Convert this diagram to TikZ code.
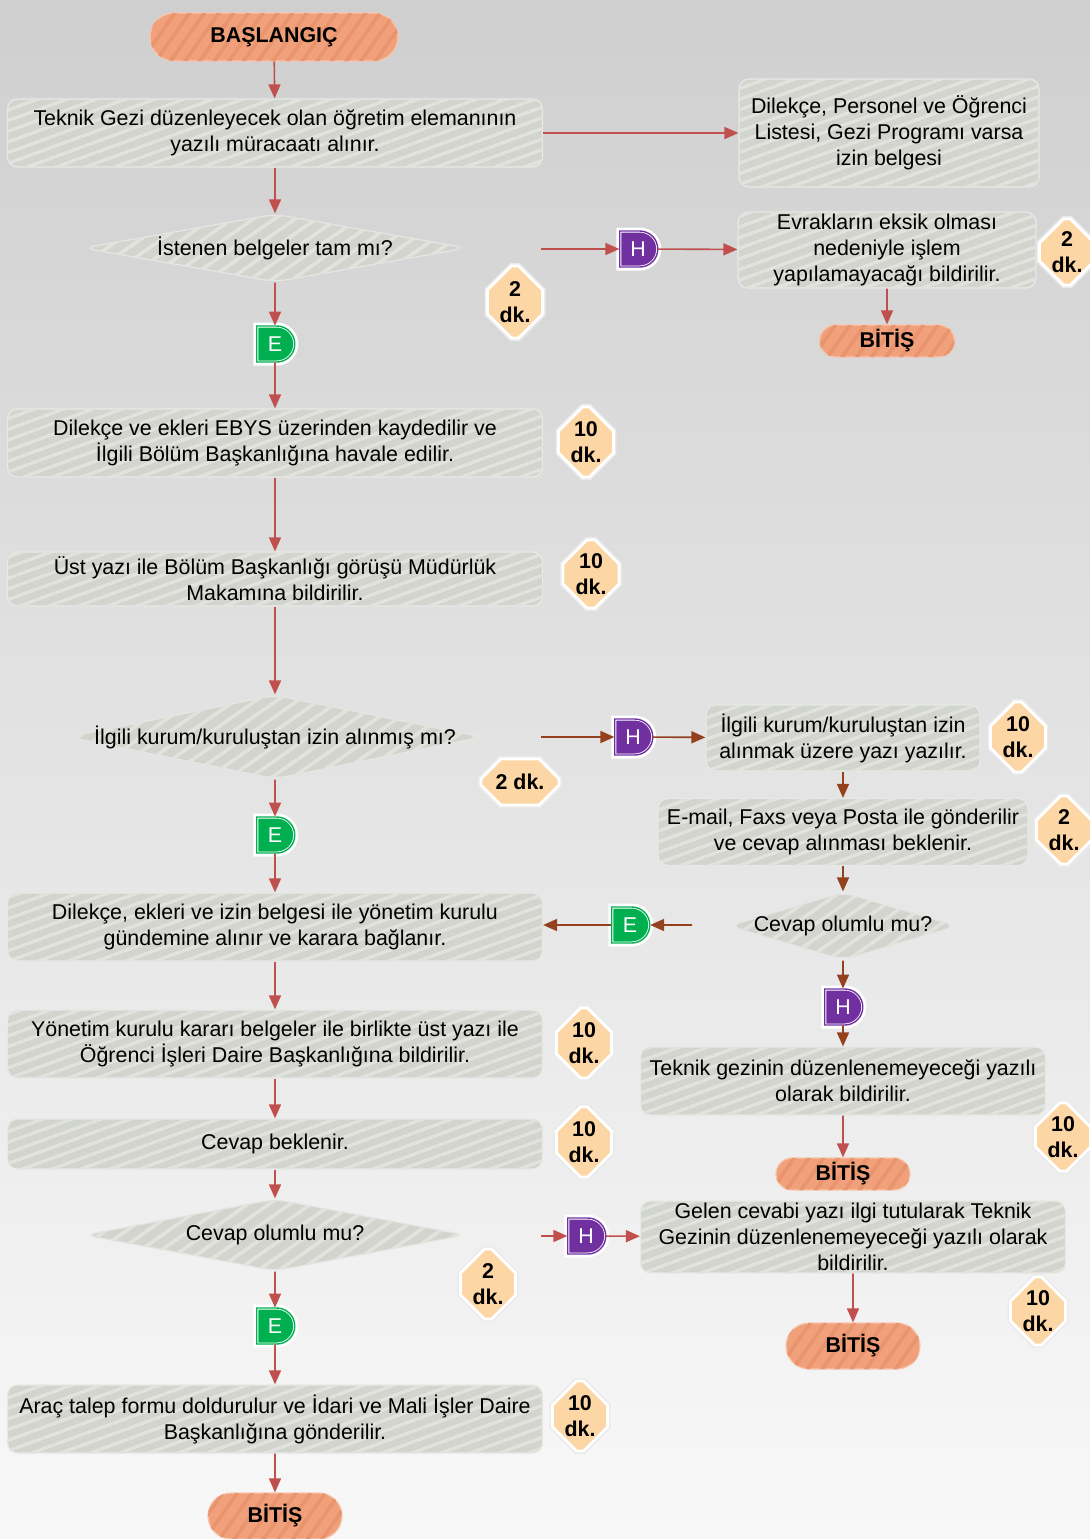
\documentclass[tikz,border=0pt]{standalone}
\usepackage{fontspec}
\setmainfont{Liberation Sans}
\usetikzlibrary{shapes.geometric, shapes.misc, arrows.meta, patterns.meta}

\definecolor{bgtop}{RGB}{207,207,207}
\definecolor{bgbot}{RGB}{248,248,248}
\definecolor{procgray}{RGB}{210,212,206}
\definecolor{termorange}{RGB}{240,160,122}
\definecolor{termstripe}{RGB}{233,148,108}
\definecolor{durpeach}{RGB}{253,214,166}
\definecolor{hpurple}{RGB}{112,48,160}
\definecolor{egreen}{RGB}{0,176,80}
\definecolor{arrred}{RGB}{192,80,77}
\definecolor{arrbrown}{RGB}{148,66,30}

\begin{document}
\begin{tikzpicture}[
  x=0.5pt, y=-0.5pt,
  font=\fontsize{10.7}{13}\selectfont,
  proc/.style={rectangle, rounded corners=5pt, fill=procgray, draw=white!50!procgray,
    line width=0.6pt, align=center, inner sep=1pt,
    postaction={pattern={Lines[angle=20, distance=5pt, line width=1.6pt]}, pattern color=white!35!procgray}},
  term/.style={rounded rectangle, fill=termorange, draw=termorange!60!white, line width=0.6pt,
    font=\fontsize{10.7}{13}\selectfont\bfseries, inner sep=0pt,
    postaction={pattern={Lines[angle=55, distance=6pt, line width=1.8pt]}, pattern color=termstripe}},
  dec/.style={diamond, rounded corners=6pt, fill=procgray, draw=white!45!procgray, line width=0.6pt,
    inner sep=0pt,
    postaction={pattern={Lines[angle=35, distance=6pt, line width=1.8pt]}, pattern color=white!35!procgray}},
  dur/.style={chamfered rectangle, chamfered rectangle xsep=6pt, chamfered rectangle ysep=6pt,
    fill=durpeach, draw=white, line width=1.4pt, inner sep=0pt, align=center,
    font=\fontsize{10.7}{13}\selectfont\bfseries, preaction={draw=black!8, line width=3pt}},
  conn/.style={rounded rectangle, rounded rectangle west arc=none, minimum height=18pt,
    minimum width=19pt, inner sep=0pt, text=white, fill=#1, draw=white, double=#1,
    double distance=0.7pt, line width=0.4pt, preaction={draw=white, line width=3.5pt}},
  flow/.style={draw=arrred, line width=0.8pt, -{Triangle[length=7pt, width=6pt]}},
  flowb/.style={flow, draw=arrbrown},
]
  \useasboundingbox (0,0) rectangle (1090,1539);
  \shade[top color=bgtop, bottom color=bgbot] (0,0) rectangle (1090,1539);

  % left column
  \node[term, minimum width=124pt, minimum height=24pt] (start) at (274,37) {BAŞLANGIÇ};
  \node[proc, minimum width=267.5pt, minimum height=34pt] (p1) at (275,133)
    {Teknik Gezi düzenleyecek olan öğretim elemanının\\yazılı müracaatı alınır.};
  \node[dec, minimum width=192pt, minimum height=34pt,
    label=center:{İstenen belgeler tam mı?}] (d1) at (275,248) {};
  \node[dur, minimum width=27.5pt, minimum height=36pt] (t1) at (515,302) {2\\dk.};
  \node[conn=egreen] (e1) at (275,344) {E};
  \node[proc, minimum width=267.5pt, minimum height=34pt] (p2) at (275,443)
    {Dilekçe ve ekleri EBYS üzerinden kaydedilir ve\\İlgili Bölüm Başkanlığına havale edilir.};
  \node[dur, minimum width=27pt, minimum height=35pt] (t2) at (586,442) {10\\dk.};
  \node[proc, minimum width=267.5pt, minimum height=27pt] (p3) at (275,579)
    {Üst yazı ile Bölüm Başkanlığı görüşü Müdürlük\\Makamına bildirilir.};
  \node[dur, minimum width=28pt, minimum height=34pt] (t3) at (591,574) {10\\dk.};
  \node[dec, minimum width=207pt, minimum height=42pt,
    label=center:{İlgili kurum/kuruluştan izin alınmış mı?}] (d2) at (275,737) {};
  \node[dur, minimum width=39pt, minimum height=23pt] (t4) at (520,782) {2 dk.};
  \node[conn=egreen] (e2) at (275,835) {E};
  \node[proc, minimum width=267.5pt, minimum height=34pt] (p4) at (275,927)
    {Dilekçe, ekleri ve izin belgesi ile yönetim kurulu\\gündemine alınır ve karara bağlanır.};
  \node[proc, minimum width=267.5pt, minimum height=34pt] (p5) at (275,1044)
    {Yönetim kurulu kararı belgeler ile birlikte üst yazı ile\\Öğrenci İşleri Daire Başkanlığına bildirilir.};
  \node[dur, minimum width=27pt, minimum height=35pt] (t5) at (584,1043) {10\\dk.};
  \node[proc, minimum width=267.5pt, minimum height=25pt] (p6) at (275,1144) {Cevap beklenir.};
  \node[dur, minimum width=27pt, minimum height=35pt] (t6) at (584,1142) {10\\dk.};
  \node[dec, minimum width=191pt, minimum height=36pt,
    label=center:{Cevap olumlu mu?}] (d4) at (275,1235) {};
  \node[dur, minimum width=26pt, minimum height=35pt] (t7) at (488,1284) {2\\dk.};
  \node[conn=egreen] (e4) at (275,1326) {E};
  \node[proc, minimum width=267.5pt, minimum height=34pt] (p7) at (275,1419)
    {Araç talep formu doldurulur ve İdari ve Mali İşler Daire\\Başkanlığına gönderilir.};
  \node[dur, minimum width=27pt, minimum height=35pt] (t8) at (580,1416) {10\\dk.};
  \node[term, minimum width=67pt, minimum height=23pt] (end4) at (275,1516) {BİTİŞ};

  % right column
  \node[proc, minimum width=150pt, minimum height=54pt] (p1r) at (889,133)
    {Dilekçe, Personel ve Öğrenci\\Listesi, Gezi Programı varsa\\izin belgesi};
  \node[conn=hpurple] (h1) at (638,249) {H};
  \node[proc, minimum width=149pt, minimum height=37.5pt] (p2r) at (887,250)
    {Evrakların eksik olması\\nedeniyle işlem\\yapılamayacağı bildirilir.};
  \node[dur, minimum width=24pt, minimum height=33pt] (t9) at (1067,252) {2\\dk.};
  \node[term, minimum width=67.5pt, minimum height=16pt] (end1) at (887,341) {BİTİŞ};
  \node[conn=hpurple] (h2) at (633,737) {H};
  \node[proc, minimum width=137pt, minimum height=33pt] (p4r) at (843,738)
    {İlgili kurum/kuruluştan izin\\alınmak üzere yazı yazılır.};
  \node[dur, minimum width=26pt, minimum height=35pt] (t10) at (1018,737) {10\\dk.};
  \node[proc, minimum width=185pt, minimum height=33.5pt] (p5r) at (843,832)
    {E-mail, Faxs veya Posta ile gönderilir\\ve cevap alınması beklenir.};
  \node[dur, minimum width=24pt, minimum height=34pt] (t11) at (1064,830) {2\\dk.};
  \node[dec, minimum width=114pt, minimum height=34pt,
    label=center:{Cevap olumlu mu?}] (d3) at (843,926) {};
  \node[conn=egreen] (e3) at (630,925) {E};
  \node[conn=hpurple] (h3) at (843,1007) {H};
  \node[proc, minimum width=202.5pt, minimum height=34pt] (p6r) at (843,1081)
    {Teknik gezinin düzenlenemeyeceği yazılı\\olarak bildirilir.};
  \node[dur, minimum width=24pt, minimum height=34pt] (t12) at (1063,1137) {10\\dk.};
  \node[term, minimum width=67pt, minimum height=16pt] (end2) at (843,1174) {BİTİŞ};
  \node[conn=hpurple] (h4) at (586,1236) {H};
  \node[proc, minimum width=212.5pt, minimum height=36pt] (p7r) at (853,1237)
    {Gelen cevabi yazı ilgi tutularak Teknik\\Gezinin düzenlenemeyeceği yazılı olarak\\bildirilir.};
  \node[dur, minimum width=25pt, minimum height=34pt] (t13) at (1038,1311) {10\\dk.};
  \node[term, minimum width=67pt, minimum height=23pt] (end3) at (853,1346) {BİTİŞ};

  % free ends of the side branches
  \coordinate (d1o) at (541,249);
  \coordinate (d2o) at (541,737);
  \coordinate (d3o) at (692,925);
  \coordinate (d4o) at (541,1236);

  % main flow
  \draw[flow] (start) -- (p1);
  \draw[flow] (p1) -- (d1);
  \draw[flow] (d1) -- (e1);
  \draw[flow] (e1) -- (p2);
  \draw[flow] (p2) -- (p3);
  \draw[flow] (p3) -- (d2);
  \draw[flow] (d2) -- (e2);
  \draw[flow] (e2) -- (p4);
  \draw[flow] (p4) -- (p5);
  \draw[flow] (p5) -- (p6);
  \draw[flow] (p6) -- (d4);
  \draw[flow] (d4) -- (e4);
  \draw[flow] (e4) -- (p7);
  \draw[flow] (p7) -- (end4);

  % branches
  \draw[flow] (p1) -- (p1r);
  \draw[flow] (d1o) -- (h1);
  \draw[flow] (h1) -- (p2r);
  \draw[flow] (p2r) -- (end1);
  \draw[flowb] (d2o) -- (h2);
  \draw[flowb] (h2) -- (p4r);
  \draw[flowb] (p4r) -- (p5r);
  \draw[flowb] (p5r) -- (d3);
  \draw[flowb] (d3o) -- (e3);
  \draw[flowb] (e3.west) -- (e3.west -| p4.east);
  \draw[flowb] (d3) -- (h3);
  \draw[flowb] (h3) -- (p6r);
  \draw[flow] (p6r) -- (end2);
  \draw[flow] (d4o) -- (h4);
  \draw[flow] (h4) -- (p7r);
  \draw[flow] (p7r) -- (end3);
\end{tikzpicture}
\end{document}
